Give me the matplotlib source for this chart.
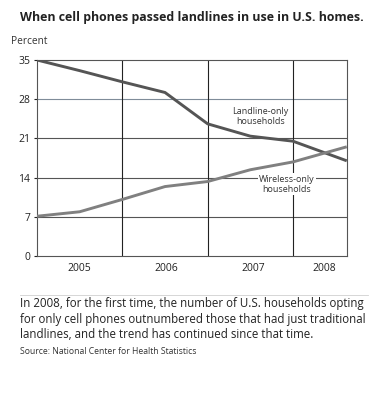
import matplotlib
matplotlib.use("Agg")
import matplotlib.pyplot as plt

years = [2005.0, 2005.5, 2006.0, 2006.5, 2007.0, 2007.5, 2008.0, 2008.63]
landline = [35.0, 33.1, 31.1, 29.2, 23.6, 21.4, 20.5, 17.0]
wireless = [7.1, 7.9, 10.1, 12.4, 13.3, 15.4, 16.8, 19.5]
year_labels = ["2005", "2006", "2007", "2008"]
year_label_pos = [2005.5, 2006.52, 2007.53, 2008.37]
y_ticks = [0, 7, 14, 21, 28, 35]

title = "When cell phones passed landlines in use in U.S. homes."
caption = ("In 2008, for the first time, the number of U.S. households opting\n"
           "for only cell phones outnumbered those that had just traditional\n"
           "landlines, and the trend has continued since that time.")
source = "Source: National Center for Health Statistics"

plt.rcParams['font.family'] = ['Open Sans', 'DejaVu Sans']

fig = plt.figure(figsize=(3.82, 3.94), dpi=100)
fig.patch.set_facecolor('white')
ax = fig.add_axes([37/382, 1-256/394, (347-37)/382, (256-60)/394])

ax.set_xlim(2005.0, 2008.633)
ax.set_ylim(0, 35)

for y in [7, 14, 21]:
    ax.axhline(y, color='#555555', lw=0.8, zorder=1)
ax.axhline(28, color='#7f8c99', lw=0.8, zorder=1)
for x in [2006, 2007, 2008]:
    ax.axvline(x, color='#222222', lw=0.8, zorder=1)

ax.plot(years, landline, color='#555555', lw=2.1, solid_capstyle='butt',
        solid_joinstyle='round', zorder=3)
ax.plot(years, wireless, color='#808080', lw=2.1, solid_capstyle='butt',
        solid_joinstyle='round', zorder=3)

ax.text(2007.62, 24.9, "Landline-only\nhouseholds", ha='center', va='center',
        fontsize=6.5, color='#333333', linespacing=1.2, zorder=4)
ax.text(2007.93, 12.8, "Wireless-only\nhouseholds", ha='center', va='center',
        fontsize=6.5, color='#333333', linespacing=1.2, zorder=4,
        bbox=dict(facecolor='white', edgecolor='none', pad=1.0))

ax.set_yticks(y_ticks)
ax.set_yticklabels([str(v) for v in y_ticks])
ax.set_xticks(year_label_pos)
ax.set_xticklabels(year_labels)
ax.tick_params(axis='x', length=0, pad=5, labelsize=7.5, colors='#222222')
ax.tick_params(axis='y', length=2, pad=3, labelsize=7.5, colors='#222222')
for s in ax.spines.values():
    s.set_color('#555555')
    s.set_linewidth(0.8)

fig.text(20/382, 1-17/394, title, fontsize=8.95, fontweight='bold',
         color='#222222', va='center', ha='left')
fig.text(11/382, 1-41/394, "Percent", fontsize=7.3, color='#333333',
         va='center', ha='left')

fig.add_artist(plt.Line2D([20/382, 368/382], [1-295/394, 1-295/394],
                          color='#d0d0d0', lw=0.6))
fig.text(20/382, 1-319/394, caption, fontsize=8.3, color='#222222',
         va='center', ha='left', linespacing=1.28)
fig.text(20/382, 1-351/394, source, fontsize=6.2, color='#333333',
         va='center', ha='left')

fig.savefig("out.png", dpi=100)
